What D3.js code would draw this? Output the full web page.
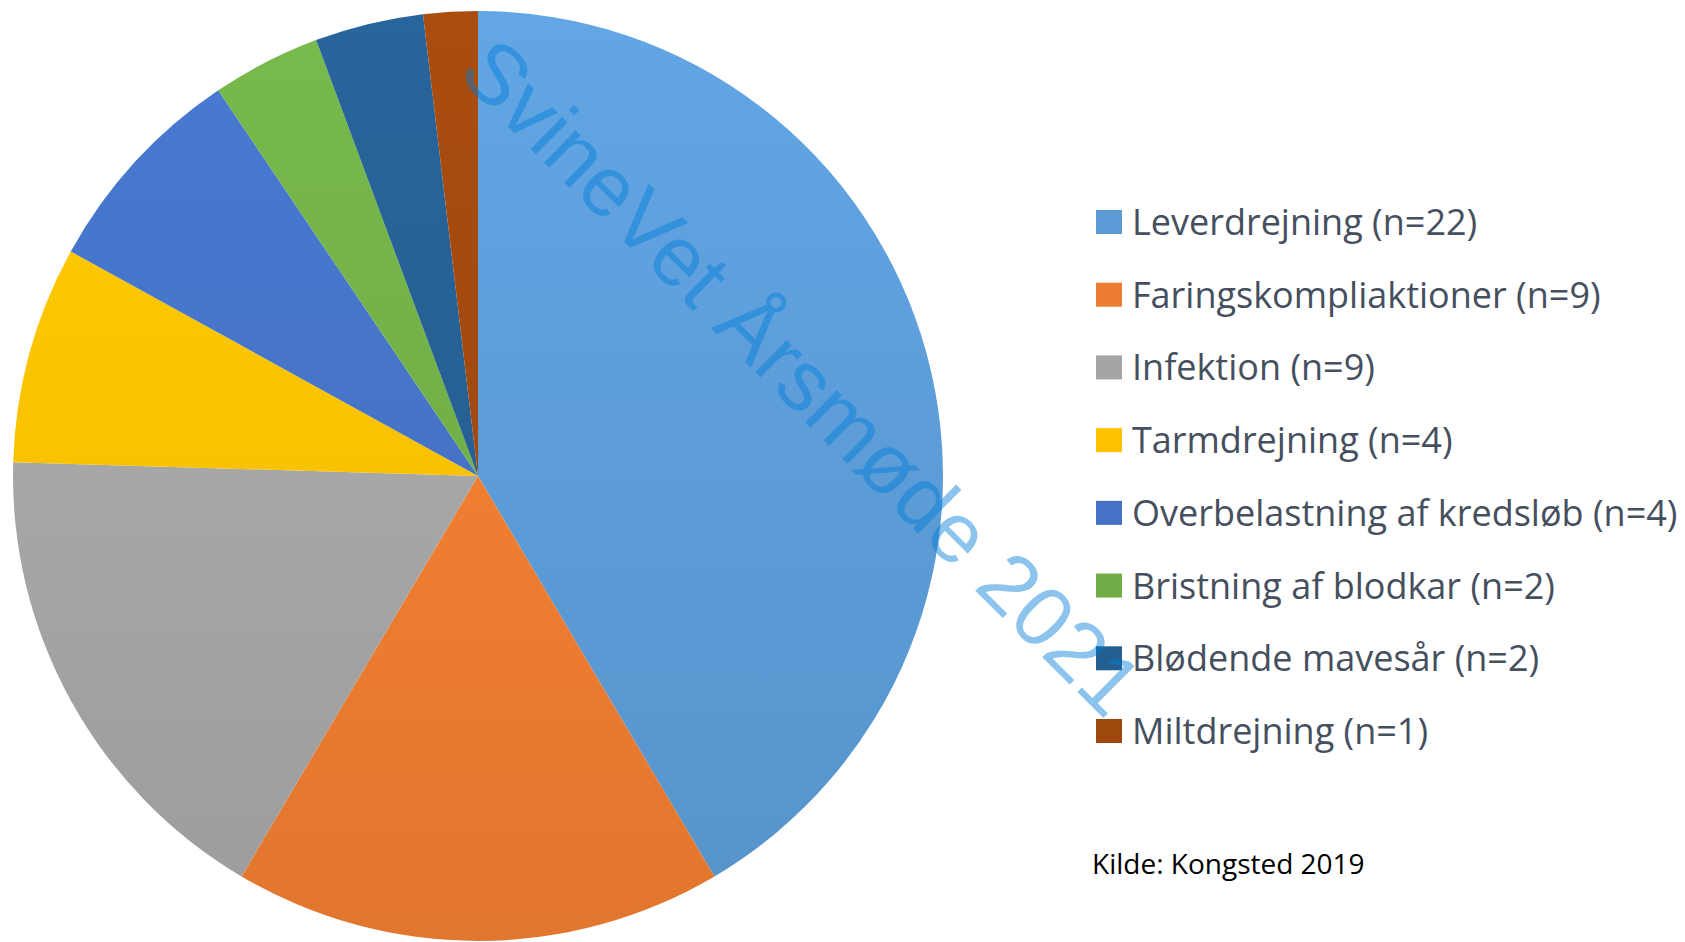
<!DOCTYPE html>
<html>
<head>
<meta charset="utf-8">
<script src="https://cdnjs.cloudflare.com/ajax/libs/d3/7.8.5/d3.min.js"></script>
<style>
  body { margin: 0; background: #fff; }
</style>
</head>
<body>
<div id="viz"></div>
<script>
// data
var causes = ['Leverdrejning', 'Faringskompliaktioner', 'Infektion', 'Tarmdrejning',
              'Overbelastning af kredsløb', 'Bristning af blodkar', 'Blødende mavesår', 'Miltdrejning'];
var counts = [22, 9, 9, 4, 4, 2, 2, 1];
var colors = ['#5B9BD5', '#ED7D31', '#A5A5A5', '#FFC000', '#4472C4', '#70AD47', '#255E91', '#9E480E'];
var sourceText = 'Kilde: Kongsted 2019';
var watermark = 'SvineVet Årsmøde 2021';

var width = 1685, height = 942;
var cx = 478, cy = 476, radius = 465;

var svg = d3.select('#viz').append('svg')
	.attr('width', width)
	.attr('height', height);

var defs = svg.append('defs');

// one top-to-bottom gradient per slice (group space), lighter at the top
colors.forEach(function(c, i) {
	var g = defs.append('linearGradient')
		.attr('id', 'grad' + i)
		.attr('gradientUnits', 'userSpaceOnUse')
		.attr('x1', 0).attr('y1', -radius)
		.attr('x2', 0).attr('y2', radius);
	g.append('stop').attr('offset', '0%').attr('stop-color', d3.color(c).brighter(0.2));
	g.append('stop').attr('offset', '100%').attr('stop-color', d3.color(c).darker(0.15));
});

var pie = d3.pie().sort(null).value(function(d) { return d; });
var arc = d3.arc().innerRadius(0).outerRadius(radius);

var pieGroup = svg.append('g')
	.attr('transform', 'translate(' + cx + ',' + cy + ')');

pieGroup.selectAll('path')
	.data(pie(counts))
	.enter().append('path')
	.attr('d', arc)
	.attr('fill', function(d, i) { return 'url(#grad' + i + ')'; });

// legend
var legendY = d3.scalePoint()
	.domain(causes)
	.range([222, 731]);

var legend = svg.append('g').attr('class', 'legend');

var rows = legend.selectAll('g')
	.data(causes)
	.enter().append('g')
	.attr('transform', function(d) { return 'translate(1096,' + legendY(d) + ')'; });

rows.append('rect')
	.attr('x', 0)
	.attr('y', -12)
	.attr('width', 26)
	.attr('height', 24)
	.attr('fill', function(d, i) { return colors[i]; });

rows.append('text')
	.attr('x', 36)
	.attr('y', 0)
	.attr('dy', '0.36em')
	.style('font-family', '"Open Sans", sans-serif')
	.style('font-size', '36px')
	.style('fill', '#454f5e')
	.text(function(d, i) { return d + ' (n=' + counts[i] + ')'; });

// source note
svg.append('text')
	.attr('x', 1092)
	.attr('y', 874)
	.style('font-family', '"Open Sans", sans-serif')
	.style('font-size', '28px')
	.style('fill', '#000')
	.text(sourceText);

// watermark across the chart
svg.append('text')
	.attr('transform', 'translate(802,377) rotate(44.8)')
	.attr('text-anchor', 'middle')
	.attr('dominant-baseline', 'central')
	.style('font-family', '"Liberation Sans", Arial, sans-serif')
	.style('font-size', '85px')
	.style('fill', 'rgb(0,125,215)')
	.style('fill-opacity', 0.45)
	.text(watermark);
</script>
</body>
</html>
